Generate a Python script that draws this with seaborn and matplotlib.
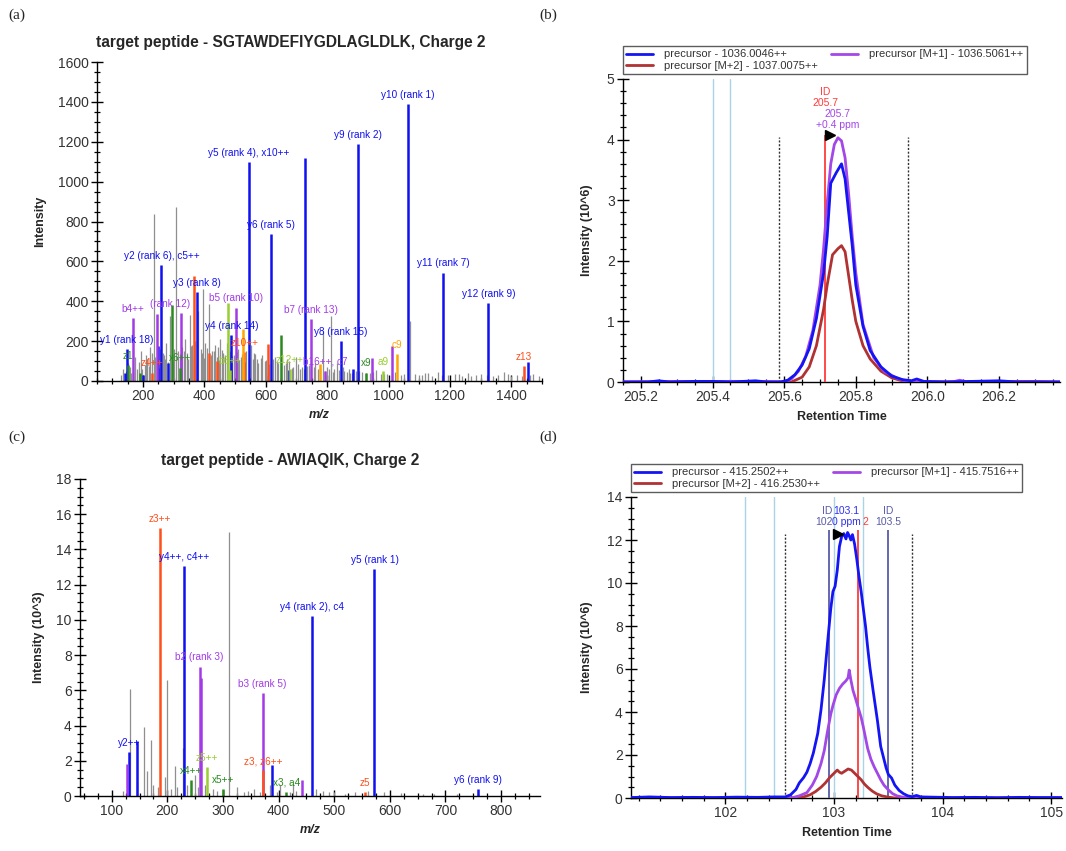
import matplotlib
matplotlib.use("Agg")
import matplotlib.pyplot as plt
import seaborn as sns
import pandas as pd
from matplotlib.ticker import MultipleLocator, FormatStrFormatter

# ---------------- data: (a) SGTAWDEFIYGDLAGLDLK spectrum ---------------- #
a_y_mz = [141, 147, 199, 250, 260, 281, 375, 488, 545, 616, 676, 729, 844, 885, 901, 1064, 1177, 1325, 1453]
a_y_int = [42, 159, 30, 176, 581, 90, 444, 229, 1100, 737, 55, 1120, 201, 60, 1190, 1390, 544, 389, 95]
a_b_mz = [167, 246, 323, 503, 748, 793, 947, 1012]
a_b_int = [315, 338, 343, 368, 310, 50, 117, 176]
a_z_mz = [230, 366, 414, 440, 530, 607, 1440]
a_z_int = [42, 528, 142, 100, 145, 188, 75]
a_c_mz = [526, 777, 1028]
a_c_int = [260, 87, 137]
a_x_mz = [150, 190, 294, 320, 650, 927]
a_x_int = [80, 40, 382, 67, 229, 42]
a_a_mz = [478, 483, 679, 982]
a_a_int = [390, 55, 60, 50]
a_grey_mz = [128, 136, 152, 160, 175, 181, 192, 205, 214, 224,
             230, 235, 240, 256, 268, 276, 288, 298, 307, 313,
             328, 336, 342, 352, 360, 370, 380, 388, 395, 402,
             415, 424, 434, 444, 452, 462, 472, 484, 496, 510,
             518, 536, 552, 560, 570, 588, 596, 630, 640, 660,
             670, 690, 700, 712, 740, 760, 770, 786, 800, 813,
             822, 832, 855, 870, 880, 895, 915, 940, 960, 975,
             995, 1020, 1040, 1070, 1085, 1100, 1120, 1140, 1160, 1195,
             1215, 1240, 1260, 1285, 1300, 1340, 1355, 1375, 1400, 1420,
             1470, 1490,
             145, 158, 168, 186, 198, 210, 218, 246, 251, 264,
             272, 282, 293, 302, 320, 333, 347, 356, 365, 375,
             392, 398, 408, 420, 430, 440, 448, 458, 468, 478,
             490, 506, 514, 524, 532, 545, 558, 566, 576, 584,
             602, 612, 622, 636, 648, 665, 676, 686, 705, 718,
             726, 734, 748, 756, 776, 792, 806, 818, 838, 850,
             866, 876, 905, 925, 950, 985, 1010, 1050, 1110, 1130,
             1175, 1230, 1270, 1320, 1390, 1435, 1460]
a_grey_int = [30, 60, 90, 40, 120, 60, 150, 80, 110, 170,
              140, 838, 120, 160, 130, 190, 327, 100, 871, 150,
              170, 210, 140, 330, 180, 200, 350, 160, 460, 190,
              385, 150, 180, 170, 210, 140, 190, 150, 130, 160,
              120, 150, 180, 140, 110, 130, 100, 120, 90, 80,
              110, 70, 120, 60, 80, 90, 60, 250, 70, 327,
              60, 90, 50, 60, 40, 50, 45, 40, 55, 35,
              35, 45, 30, 300, 35, 30, 40, 25, 45, 30,
              35, 25, 40, 30, 35, 25, 30, 45, 25, 30,
              35, 25,
              50, 70, 45, 95, 60, 130, 75, 100, 65, 140,
              110, 95, 120, 160, 135, 150, 110, 175, 120, 90,
              140, 115, 165, 130, 150, 120, 105, 155, 130, 170,
              125, 145, 105, 135, 95, 120, 110, 135, 90, 115,
              105, 85, 110, 95, 75, 90, 100, 65, 85, 70,
              60, 75, 55, 70, 65, 50, 60, 45, 55, 70,
              45, 40, 50, 40, 45, 35, 40, 35, 30, 40,
              30, 35, 25, 30, 35, 25, 30]
a_lab_text = ["y1 (rank 18)", "b4++", "y2 (rank 6), c5++", "z4++", "z1", "x6++",
              "y3 (rank 8)", "b5 (rank 10)", "y4 (rank 14)", "b6++", "z10++", "y5 (rank 4), x10++",
              "y6 (rank 5)", "z12++", "b16++, c7", "b7 (rank 13)", "y8 (rank 15)", "y9 (rank 2)",
              "x9", "a9", "c9", "y10 (rank 1)", "y11 (rank 7)", "y12 (rank 9)", "z13"]
a_lab_mz = [147, 167, 260, 230, 150, 320, 375, 503, 488, 483, 530, 545, 616, 679, 793,
            748, 844, 901, 927, 982, 1028, 1064, 1177, 1325, 1440]
a_lab_int = [159, 315, 581, 42, 80, 67, 444, 368, 229, 55, 145, 1100, 737, 60, 50,
             310, 201, 1190, 42, 50, 137, 1390, 544, 389, 75]
a_lab_ion = ["y", "b", "y", "z", "x", "x", "y", "b", "y", "a", "z", "y", "y", "a", "b",
             "b", "y", "y", "x", "a", "c", "y", "y", "y", "z"]
# b3 label is partly hidden behind "b4++": only "(rank 12)" shows
a_rank12_mz = 246
a_rank12_int = 338

# ---------------- data: (c) AWIAQIK spectrum (10^3) ---------------- #
c_y_mz = [130.6, 146, 230.1, 388, 459.3, 572.4, 758.4]
c_y_int = [2.5, 3.1, 13.05, 1.74, 10.2, 12.9, 0.4]
c_b_mz = [127, 258, 260, 371.2, 442.3]
c_b_int = [1.8, 7.35, 6.7, 5.85, 0.93]
c_z_mz = [186.1, 372.2, 556]
c_z_int = [15.2, 1.46, 0.2]
c_x_mz = [242, 300, 414]
c_x_int = [0.9, 0.4, 0.25]
c_a_mz = [271]
c_a_int = [1.65]
c_grey_mz = [120, 133, 145, 158, 164, 170, 175, 183, 195, 200,
             206, 214, 218, 228, 236, 250, 255, 268, 282, 290,
             310, 325, 337, 345, 356, 366, 384, 398, 402, 420,
             426, 432, 468, 480, 490, 500, 520, 538, 560, 590,
             620, 660, 680, 720]
c_grey_int = [0.3, 6.1, 0.8, 3.9, 1.4, 3.2, 0.6, 0.5, 1.1, 6.6,
              0.4, 1.7, 0.5, 2.7, 0.6, 1.2, 0.5, 0.6, 0.4, 0.3,
              15.0, 0.5, 0.2, 0.3, 0.4, 0.2, 0.6, 0.2, 0.6, 0.2,
              0.7, 0.3, 0.4, 0.3, 0.2, 0.2, 0.1, 0.2, 0.3, 0.2,
              0.15, 0.1, 0.1, 0.1]
c_lab_text = ["y2++", "z3++", "y4++, c4++", "x4++", "b2 (rank 3)", "z5++", "x5++", "b3 (rank 5)",
              "z3, z6++", "x3, a4", "y4 (rank 2), c4", "z5", "y5 (rank 1)", "y6 (rank 9)"]
c_lab_mz = [130.6, 186.1, 230.1, 242, 258, 271, 300, 371.2, 372.2, 414, 459.3, 556, 572.4, 758.4]
c_lab_int = [2.5, 15.2, 13.05, 0.9, 7.35, 1.65, 0.4, 5.85, 1.46, 0.25, 10.2, 0.2, 12.9, 0.4]
c_lab_ion = ["y", "z", "y", "x", "b", "a", "x", "b", "z", "x", "y", "z", "y", "y"]

# ---------------- data: (b) chromatogram 1036.0046++ (10^6) ---------------- #
b_rt_m0 = [205.15, 205.22, 205.25, 205.28, 205.35, 205.40, 205.45, 205.52, 205.55, 205.59,
           205.61, 205.63, 205.65, 205.67, 205.69, 205.71, 205.72, 205.73, 205.745, 205.76,
           205.77, 205.78, 205.79, 205.80, 205.82, 205.84, 205.87, 205.90, 205.93, 205.955,
           205.97, 205.99, 206.05, 206.20, 206.25, 206.37]
b_int_m0 = [0.0, 0.0, 0.02, 0.0, 0.01, 0.01, 0.0, 0.02, 0.0, 0.0,
            0.03, 0.12, 0.28, 0.55, 1.05, 1.8, 2.4, 3.28, 3.45, 3.6,
            3.35, 2.8, 2.25, 1.6, 0.92, 0.52, 0.25, 0.1, 0.04, 0.02,
            0.05, 0.01, 0.0, 0.02, 0.0, 0.0]
b_rt_m1 = [205.15, 205.45, 205.60, 205.62, 205.64, 205.66, 205.68, 205.70, 205.71, 205.72,
           205.73, 205.74, 205.75, 205.76, 205.77, 205.78, 205.79, 205.80, 205.82, 205.85,
           205.88, 205.92, 205.95, 206.07, 206.09, 206.11, 206.37]
b_int_m1 = [0.0, 0.01, 0.0, 0.05, 0.18, 0.42, 0.85, 1.6, 2.2, 2.95,
            3.6, 3.92, 4.03, 3.98, 3.7, 3.1, 2.4, 1.8, 0.95, 0.4,
            0.17, 0.05, 0.0, 0.0, 0.03, 0.0, 0.0]
b_rt_m2 = [205.15, 205.45, 205.62, 205.65, 205.67, 205.69, 205.71, 205.72, 205.735, 205.75,
           205.76, 205.77, 205.78, 205.79, 205.80, 205.82, 205.84, 205.87, 205.90, 205.94,
           206.30, 206.37]
b_int_m2 = [0.0, 0.01, 0.0, 0.08, 0.25, 0.6, 1.2, 1.6, 2.1, 2.2,
            2.25, 2.15, 1.75, 1.35, 1.0, 0.6, 0.38, 0.18, 0.07, 0.0,
            0.01, 0.0]
b_names = ["precursor - 1036.0046++", "precursor [M+1] - 1036.5061++", "precursor [M+2] - 1037.0075++"]
b_ms2_rt = [205.40, 205.45]
b_bounds = [205.585, 205.945]
b_id_rt = 205.715
b_peak_top = 4.08

# ---------------- data: (d) chromatogram 415.2502++ (10^6) ---------------- #
d_rt_m0 = [101.13, 101.3, 101.5, 101.7, 101.9, 102.1, 102.3, 102.45, 102.55, 102.6,
           102.65, 102.68, 102.72, 102.75, 102.78, 102.81, 102.85, 102.88, 102.91, 102.94,
           102.97, 102.99, 103.01, 103.03, 103.05, 103.07, 103.09, 103.11, 103.125, 103.14,
           103.155, 103.17, 103.19, 103.21, 103.23, 103.25, 103.27, 103.29, 103.31, 103.33,
           103.36, 103.40, 103.43, 103.46, 103.48, 103.50, 103.53, 103.56, 103.60, 103.64,
           103.68, 103.72, 103.76, 103.80, 103.9, 104.1, 104.3, 104.5, 104.7, 104.9,
           105.1]
d_int_m0 = [0.02, 0.05, 0.02, 0.03, 0.02, 0.04, 0.03, 0.05, 0.05, 0.15,
            0.4, 0.7, 0.95, 1.2, 1.6, 2.1, 3.0, 4.1, 5.5, 7.2,
            8.8, 9.6, 9.85, 10.6, 11.7, 12.15, 12.3, 12.05, 12.35, 12.2,
            12.0, 12.25, 11.8, 11.1, 10.3, 9.6, 8.8, 8.0, 7.0, 6.1,
            5.0, 3.6, 2.4, 1.8, 1.4, 1.1, 0.93, 0.6, 0.35, 0.2,
            0.1, 0.06, 0.12, 0.05, 0.04, 0.02, 0.03, 0.01, 0.03, 0.02,
            0.02]
d_rt_m1 = [101.13, 102.55, 102.62, 102.68, 102.75, 102.80, 102.84, 102.88, 102.91, 102.94,
           102.97, 102.99, 103.02, 103.05, 103.08, 103.11, 103.13, 103.14, 103.155, 103.175,
           103.20, 103.22, 103.25, 103.27, 103.29, 103.31, 103.34, 103.37, 103.40, 103.43,
           103.46, 103.50, 103.54, 103.58, 103.64, 103.70, 105.1]
d_int_m1 = [0.0, 0.0, 0.02, 0.1, 0.25, 0.6, 1.0, 1.6, 2.2, 3.1,
            3.9, 4.3, 4.8, 5.1, 5.3, 5.45, 5.6, 5.95, 5.5, 5.0,
            4.6, 4.25, 3.75, 3.3, 2.8, 2.3, 1.8, 1.45, 1.15, 0.85,
            0.6, 0.38, 0.2, 0.1, 0.03, 0.0, 0.0]
d_rt_m2 = [101.13, 102.65, 102.72, 102.78, 102.83, 102.88, 102.92, 102.96, 103.00, 103.03,
           103.05, 103.07, 103.10, 103.13, 103.16, 103.19, 103.22, 103.25, 103.28, 103.31,
           103.35, 103.39, 103.44, 103.50, 103.56, 105.1]
d_int_m2 = [0.0, 0.0, 0.05, 0.15, 0.3, 0.5, 0.7, 0.95, 1.15, 1.3,
            1.2, 1.15, 1.25, 1.35, 1.3, 1.15, 1.0, 0.85, 0.65, 0.5,
            0.33, 0.2, 0.1, 0.04, 0.0, 0.0]
d_names = ["precursor - 415.2502++", "precursor [M+1] - 415.7516++", "precursor [M+2] - 416.2530++"]
d_ms2_rt = [102.18, 102.45, 103.0, 103.27]
d_bounds = [102.55, 103.72]
d_id_rt = [102.95, 103.5]
d_best_rt = 103.22
d_peak_top = 12.45

# ---------------- style ---------------- #
sns.set_theme(style="ticks")
plt.rcParams["font.family"] = ["Liberation Sans", "DejaVu Sans"]
ion_colors = {"y": "#1010f0", "b": "#a23be6", "z": "#ff4f1a", "c": "#ffa500",
              "x": "#2a8a1f", "a": "#9acd32"}
grey = "#8f8f8f"
trace_colors = ["#1414f5", "#a347e6", "#b03232"]
TICK = "#333333"
LAB = 7.2

fig = plt.figure(figsize=(10.66, 8.51), dpi=100)
W, H = 1066, 851


def ax_at(left, top, right, bottom):
    return fig.add_axes([left / W, 1 - bottom / H, (right - left) / W, (bottom - top) / H])


def style_axis(ax, xmaj, xmin, ymaj, ymin):
    sns.despine(ax=ax)
    ax.xaxis.set_major_locator(MultipleLocator(xmaj))
    ax.xaxis.set_minor_locator(MultipleLocator(xmin))
    ax.yaxis.set_major_locator(MultipleLocator(ymaj))
    ax.yaxis.set_minor_locator(MultipleLocator(ymin))
    ax.tick_params(which="major", direction="inout", length=8, width=1, color="black",
                   labelsize=10, labelcolor=TICK, pad=2)
    ax.tick_params(which="minor", direction="inout", length=4, width=0.9, color="black")
    for s in ["left", "bottom"]:
        ax.spines[s].set_color("black")
        ax.spines[s].set_linewidth(1.0)
    ax.set_facecolor("white")


def spectrum(ax, peaks, grey_mz, grey_int, labels):
    ax.vlines(grey_mz, 0, grey_int, color=grey, lw=0.9, zorder=1)
    for ion, (mz, inten) in peaks.items():
        ax.vlines(mz, 0, inten, color=ion_colors[ion], lw=1.8, zorder=2)
    for txt, mz, inten, ion in zip(*labels):
        ax.annotate(txt, (mz, inten), xytext=(0, 3), textcoords="offset points",
                    ha="center", va="bottom", fontsize=LAB, color=ion_colors[ion], zorder=3)


# ---------------- (a) ---------------- #
ax_a = ax_at(97, 62, 542, 381)
spectrum(ax_a,
         {"y": (a_y_mz, a_y_int), "b": (a_b_mz, a_b_int), "z": (a_z_mz, a_z_int),
          "c": (a_c_mz, a_c_int), "x": (a_x_mz, a_x_int), "a": (a_a_mz, a_a_int)},
         a_grey_mz, a_grey_int, (a_lab_text, a_lab_mz, a_lab_int, a_lab_ion))
ax_a.annotate("(rank 12)", (a_rank12_mz, a_rank12_int), xytext=(-5, 3), textcoords="offset points",
              ha="left", va="bottom", fontsize=LAB, color=ion_colors["b"], zorder=3)
ax_a.set_xlim(50, 1500)
ax_a.set_ylim(0, 1600)
style_axis(ax_a, 200, 50, 200, 50)
ax_a.set_xlabel("m/z", fontsize=9, fontweight="bold", style="italic", labelpad=4)
ax_a.set_ylabel("Intensity", fontsize=9, fontweight="bold", labelpad=8)
fig.text(291 / W, 1 - 43 / H, "target peptide - SGTAWDEFIYGDLAGLDLK, Charge 2",
         ha="center", va="center", fontsize=11.2, fontweight="bold")

# ---------------- (c) ---------------- #
ax_c = ax_at(80, 479, 540, 796)
spectrum(ax_c,
         {"y": (c_y_mz, c_y_int), "b": (c_b_mz, c_b_int), "z": (c_z_mz, c_z_int),
          "x": (c_x_mz, c_x_int), "a": (c_a_mz, c_a_int)},
         c_grey_mz, c_grey_int, (c_lab_text, c_lab_mz, c_lab_int, c_lab_ion))
ax_c.set_xlim(43, 870)
ax_c.set_ylim(0, 18)
style_axis(ax_c, 100, 25, 2, 0.5)
ax_c.set_xlabel("m/z", fontsize=9, fontweight="bold", style="italic", labelpad=4)
ax_c.set_ylabel("Intensity (10^3)", fontsize=9, fontweight="bold", labelpad=8)
fig.text(290 / W, 1 - 461 / H, "target peptide - AWIAQIK, Charge 2",
         ha="center", va="center", fontsize=11.2, fontweight="bold")


# ---------------- chromatograms ---------------- #
def chromatogram(ax, traces, names):
    frames = []
    for (rt, inten), name in zip(traces, names):
        frames.append(pd.DataFrame({"rt": rt, "intensity": inten, "trace": name}))
    df = pd.concat(frames, ignore_index=True)
    # draw M+2 first, then M+1, then monoisotopic on top
    for name, col in zip(names[::-1], trace_colors[::-1]):
        sns.lineplot(data=df[df["trace"] == name], x="rt", y="intensity", ax=ax,
                     color=col, lw=2, estimator=None, sort=True, label=name, zorder=4)
    h, l = ax.get_legend_handles_labels()
    order = [l.index(names[0]), l.index(names[2]), l.index(names[1])]
    leg = ax.legend([h[i] for i in order], [l[i] for i in order], ncol=2,
                    loc="lower left", bbox_to_anchor=(0.0, 1.015), borderaxespad=0,
                    fontsize=8, frameon=True, fancybox=False, handlelength=2.4,
                    columnspacing=1.2, borderpad=0.3, labelspacing=0.15, handletextpad=1.0)
    leg.get_frame().set_edgecolor("#333333")
    leg.get_frame().set_linewidth(1.0)
    for t in leg.get_texts():
        t.set_color(TICK)


# (b)
ax_b = ax_at(623, 79, 1060, 382)
chromatogram(ax_b, [(b_rt_m0, b_int_m0), (b_rt_m1, b_int_m1), (b_rt_m2, b_int_m2)], b_names)
for x in b_ms2_rt:
    ax_b.axvline(x, color="#a9d4e8", lw=1, zorder=1)
ax_b.vlines(b_bounds, 0, b_peak_top - 0.03, color="#333333", lw=1, ls=(0, (1.5, 1.2)), zorder=2)
ax_b.vlines(b_id_rt, 0, b_peak_top, color="#ff3b3b", lw=1.3, zorder=3)
ax_b.plot(b_id_rt + 0.012, b_peak_top, marker=">", ms=7, color="black", zorder=6)
ax_b.text(b_id_rt, 4.52, "ID\n205.7", ha="center", va="bottom", fontsize=7.5, color="#ff3b3b",
          linespacing=1.1)
ax_b.text(205.748, 4.16, "205.7\n+0.4 ppm", ha="center", va="bottom", fontsize=7.5,
          color="#a347e6", linespacing=1.1)
ax_b.set_xlim(205.15, 206.37)
ax_b.set_ylim(0, 5)
style_axis(ax_b, 0.2, 0.05, 1, 0.2)
ax_b.xaxis.set_major_formatter(FormatStrFormatter("%.1f"))
ax_b.set_xlabel("Retention Time", fontsize=9, fontweight="bold", labelpad=5)
ax_b.set_ylabel("Intensity (10^6)", fontsize=9, fontweight="bold", labelpad=10)

# (d)
ax_d = ax_at(631, 497, 1062, 798)
chromatogram(ax_d, [(d_rt_m0, d_int_m0), (d_rt_m1, d_int_m1), (d_rt_m2, d_int_m2)], d_names)
for x in d_ms2_rt:
    ax_d.axvline(x, color="#a9d4e8", lw=1, zorder=1)
ax_d.vlines(d_bounds, 0, d_peak_top - 0.15, color="#333333", lw=1, ls=(0, (1.5, 1.2)), zorder=2)
ax_d.vlines(d_id_rt, 0, d_peak_top, color="#5a5aa8", lw=1.3, zorder=3)
ax_d.vlines(d_best_rt, 0, d_peak_top, color="#ff3b3b", lw=1.3, zorder=3)
ax_d.plot(103.04, 12.3, marker=">", ms=7, color="black", zorder=6)
# the ID labels crowd each other; only the visible parts are kept
ax_d.text(102.985, 12.6, "ID\n102", ha="right", va="bottom", fontsize=7.5,
          color="#5a5aa8", linespacing=1.1, multialignment="right")
ax_d.text(103.115, 12.6, "103.1\n0 ppm", ha="center", va="bottom", fontsize=7.5,
          color="#3030ee", linespacing=1.1)
ax_d.text(103.265, 12.6, "2", ha="left", va="bottom", fontsize=7.5, color="#ff3b3b")
ax_d.text(d_id_rt[1], 12.6, "ID\n103.5", ha="center", va="bottom", fontsize=7.5,
          color="#5a5aa8", linespacing=1.1)
ax_d.set_xlim(101.13, 105.1)
ax_d.set_ylim(0, 14)
style_axis(ax_d, 1, 0.2, 2, 0.5)
ax_d.set_xlabel("Retention Time", fontsize=9, fontweight="bold", labelpad=5)
ax_d.set_ylabel("Intensity (10^6)", fontsize=9, fontweight="bold", labelpad=10)

# ---------------- panel letters ---------------- #
for lab, x, y in [("(a)", 17, 15), ("(b)", 548, 15), ("(c)", 17, 437), ("(d)", 548, 437)]:
    fig.text(x / W, 1 - y / H, lab, ha="center", va="center", fontsize=11,
             family=["Liberation Serif", "DejaVu Serif"])

fig.savefig("out.png", dpi=100, facecolor="white")
plt.close(fig)
